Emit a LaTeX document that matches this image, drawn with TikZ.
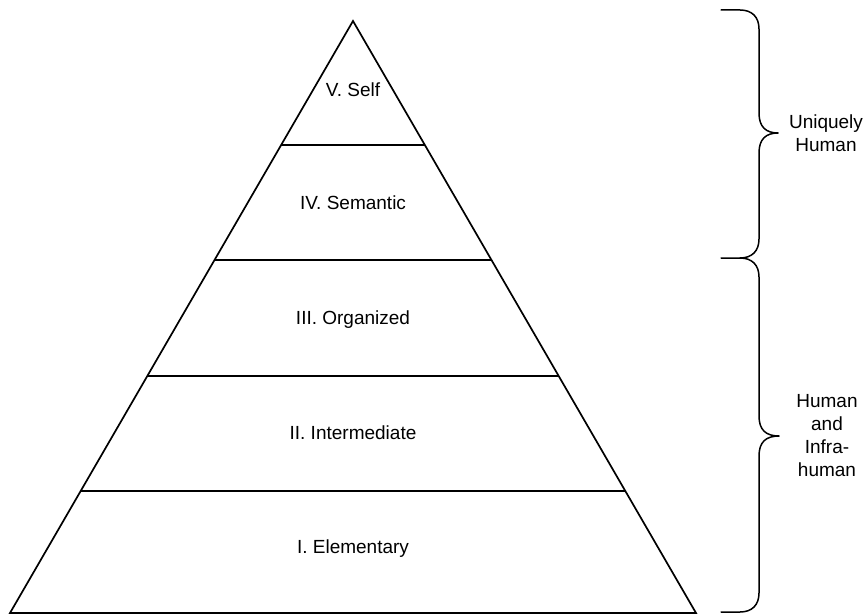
\documentclass[tikz,border=0pt]{standalone}
\usepackage{fontspec}
\setmainfont{Liberation Sans}
\usetikzlibrary{calc}
\begin{document}
\begin{tikzpicture}[x=1pt,y=-1pt,
  edge/.style={line width=1.7pt,line join=miter},
  divider/.style={line width=1.4pt},
  bracepath/.style={line width=1.5pt,line cap=round,line join=round},
  level/.style={font=\fontsize{19}{23}\selectfont,inner sep=0pt},
  side/.style={font=\fontsize{19}{23}\selectfont,align=center,inner sep=0pt}]
\useasboundingbox (0,0) rectangle (867,615);
% pyramid corners
\coordinate (apex) at (353,21);
\coordinate (bl) at (10,613);
\coordinate (br) at (696,613);
\draw[edge] (bl) -- (apex) -- (br) -- cycle;
% dividers
\foreach \n/\yy in {a/145,b/260,c/376,d/491}{
  \coordinate (L\n) at ($(apex)!{(\yy-21)/592}!(bl)$);
  \coordinate (R\n) at ($(apex)!{(\yy-21)/592}!(br)$);
  \draw[divider] (L\n) -- (R\n);
}
% labels
\node[level] (l5) at (353,90) {V. Self};
\node[level] (l4) at (353,203) {IV. Semantic};
\node[level] (l3) at (353,320) {III. Organized};
\node[level] (l2) at (353,433) {II. Intermediate};
\node[level] (l1) at (353,549) {I. Elementary};
% braces
\draw[bracepath] (721,10) -- (740,10) .. controls (752,10) and (759,17) .. (759,29)
  -- (759,113) .. controls (759,127) and (766,133) .. (778,133)
  .. controls (766,133) and (759,139) .. (759,153)
  -- (759,239) .. controls (759,251) and (752,258) .. (740,258) -- (721,258);
\draw[bracepath] (740,258) .. controls (752,258) and (759,265) .. (759,277)
  -- (759,416) .. controls (759,430) and (766,436) .. (779,436)
  .. controls (766,436) and (759,442) .. (759,456)
  -- (759,593) .. controls (759,605) and (752,612) .. (740,612) -- (721,612);
\node[side] (uh) at (826,133) {Uniquely\\Human};
\node[side] (hih) at (827,436) {Human\\and\\Infra-\\human};
\end{tikzpicture}
\end{document}
